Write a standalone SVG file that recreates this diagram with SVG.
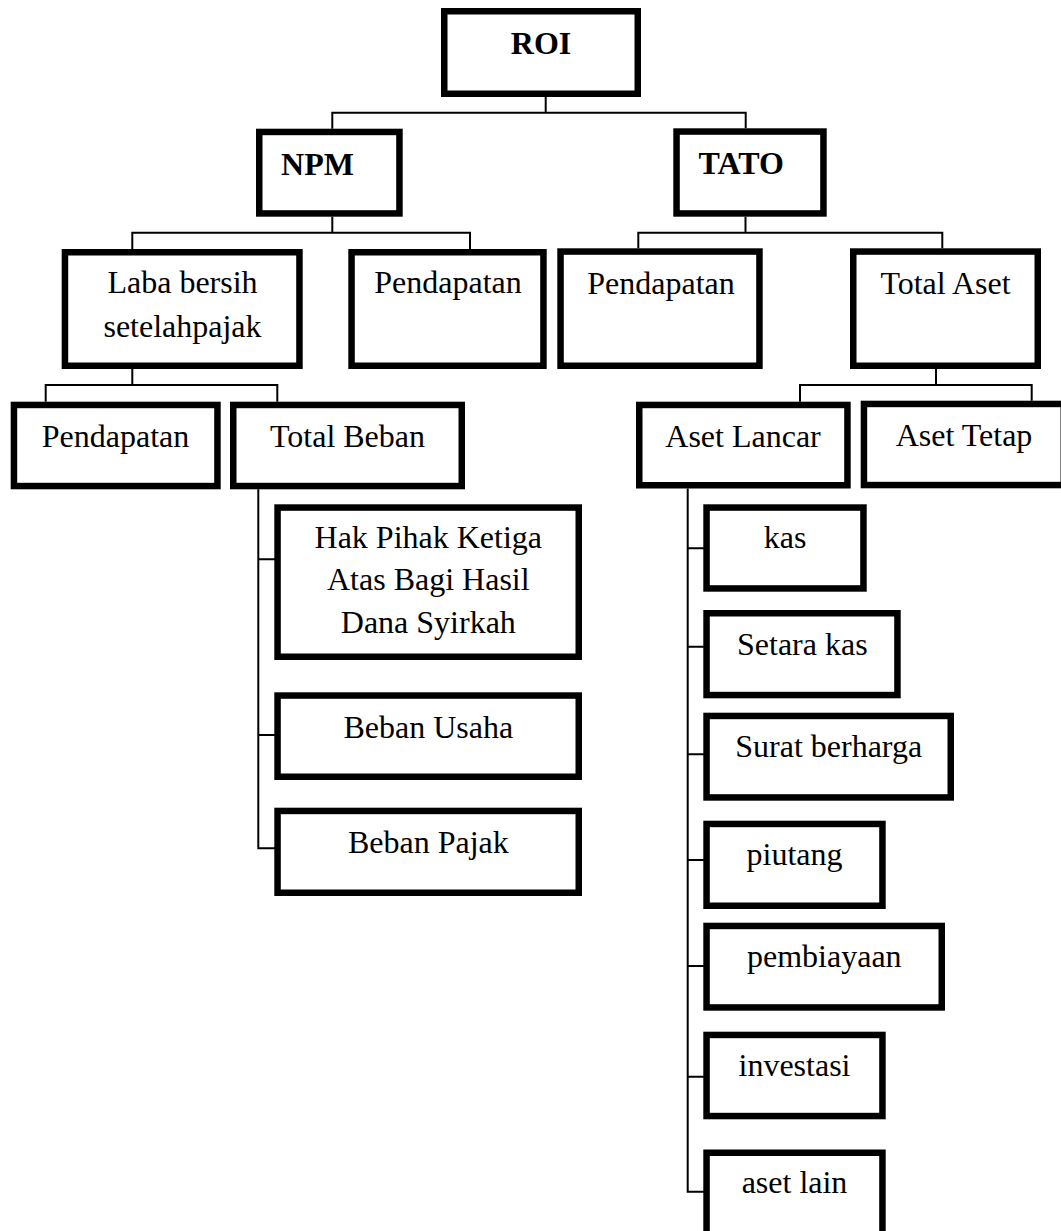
<svg xmlns="http://www.w3.org/2000/svg" width="1061" height="1231" viewBox="0 0 1061 1231">
  <style>
    .box { fill: #ffffff; stroke: #000000; stroke-width: 6.5; }
    .link { fill: none; stroke: #000000; stroke-width: 2; }
    .lbl { font-family: "Liberation Serif", "Times New Roman", serif; font-size: 32px; fill: #000000; text-anchor: middle; }
    .head { font-weight: bold; }
  </style>
  <rect x="0" y="0" width="1061" height="1231" fill="#ffffff"/>

  <!-- tree connectors -->
  <g id="connectors">
    <path class="link" d="M545.7 97V112.7 M332.3 128.7V112.7H745.7V128.3"/>
    <path class="link" d="M332.3 216.7V232.7 M132.3 249V232.7H470V249"/>
    <path class="link" d="M745.5 216.7V232.7 M638.3 248.3V232.7H942.3V248.3"/>
    <path class="link" d="M132.3 369V385 M45.7 401.7V385H277.3V401.7"/>
    <path class="link" d="M936 369V385 M800 401.7V385H1031.7V400.7"/>
    <path class="link" d="M258.3 489.3V848.3H275 M258.3 559.3H275 M258.3 735H275"/>
    <path class="link" d="M687.7 488.5V1191.7H704 M687.7 548.3H704 M687.7 646.7H704 M687.7 754.3H704 M687.7 860H704 M687.7 966H704 M687.7 1076.7H704"/>
  </g>

  <!-- level 0 -->
  <g id="roi">
    <rect class="box" x="444.25" y="11.25" width="193.5" height="82.5"/>
    <text class="lbl head" x="541" y="54">ROI</text>
  </g>

  <!-- level 1 -->
  <g id="npm">
    <rect class="box" x="259.25" y="131.95" width="140.2" height="81.5"/>
    <text class="lbl head" x="317.5" y="175">NPM</text>
  </g>
  <g id="tato">
    <rect class="box" x="676.55" y="131.55" width="146.9" height="81.9"/>
    <text class="lbl head" x="741.2" y="174">TATO</text>
  </g>

  <!-- level 2 -->
  <g id="laba-bersih">
    <rect class="box" x="64.95" y="252.25" width="234.5" height="113.5"/>
    <text class="lbl" x="182.5" y="293.3">Laba bersih</text>
    <text class="lbl" x="182.5" y="336.7">setelahpajak</text>
  </g>
  <g id="pendapatan-npm">
    <rect class="box" x="351.55" y="252.25" width="191.9" height="113.5"/>
    <text class="lbl" x="448" y="293.3">Pendapatan</text>
  </g>
  <g id="pendapatan-tato">
    <rect class="box" x="560.55" y="251.55" width="198.9" height="114.2"/>
    <text class="lbl" x="661" y="294">Pendapatan</text>
  </g>
  <g id="total-aset">
    <rect class="box" x="853.25" y="251.55" width="184.5" height="114.2"/>
    <text class="lbl" x="945.5" y="294">Total Aset</text>
  </g>

  <!-- level 3 -->
  <g id="pendapatan-laba">
    <rect class="box" x="13.95" y="404.95" width="203.5" height="81.1"/>
    <text class="lbl" x="115.5" y="446.7">Pendapatan</text>
  </g>
  <g id="total-beban">
    <rect class="box" x="233.25" y="404.95" width="228.5" height="81.1"/>
    <text class="lbl" x="347.5" y="446.7">Total Beban</text>
  </g>
  <g id="aset-lancar">
    <rect class="box" x="639.25" y="404.95" width="208.2" height="80.3"/>
    <text class="lbl" x="743" y="446.7">Aset Lancar</text>
  </g>
  <g id="aset-tetap">
    <rect class="box" x="863.95" y="403.95" width="199.8" height="81.1"/>
    <text class="lbl" x="964" y="446.3">Aset Tetap</text>
  </g>

  <!-- components of total beban -->
  <g id="hak-pihak-ketiga">
    <rect class="box" x="277.55" y="507.55" width="301.2" height="149.2"/>
    <text class="lbl" x="428.3" y="548.3">Hak Pihak Ketiga</text>
    <text class="lbl" x="428.3" y="590">Atas Bagi Hasil</text>
    <text class="lbl" x="428.3" y="633.3">Dana Syirkah</text>
  </g>
  <g id="beban-usaha">
    <rect class="box" x="277.55" y="695.55" width="301.2" height="81.2"/>
    <text class="lbl" x="428.3" y="737.7">Beban Usaha</text>
  </g>
  <g id="beban-pajak">
    <rect class="box" x="277.55" y="810.95" width="301.2" height="81.8"/>
    <text class="lbl" x="428.3" y="852.7">Beban Pajak</text>
  </g>

  <!-- components of aset lancar -->
  <g id="kas">
    <rect class="box" x="706.55" y="507.55" width="156.9" height="80.9"/>
    <text class="lbl" x="785" y="548.3">kas</text>
  </g>
  <g id="setara-kas">
    <rect class="box" x="706.55" y="613.25" width="190.9" height="81.8"/>
    <text class="lbl" x="802.3" y="654.5">Setara kas</text>
  </g>
  <g id="surat-berharga">
    <rect class="box" x="706.55" y="715.95" width="244.2" height="81.5"/>
    <text class="lbl" x="828.7" y="756.7">Surat berharga</text>
  </g>
  <g id="piutang">
    <rect class="box" x="706.55" y="823.95" width="175.9" height="81.8"/>
    <text class="lbl" x="794.5" y="864.8">piutang</text>
  </g>
  <g id="pembiayaan">
    <rect class="box" x="706.55" y="925.95" width="235.2" height="81.5"/>
    <text class="lbl" x="824.3" y="967.2">pembiayaan</text>
  </g>
  <g id="investasi">
    <rect class="box" x="706.55" y="1034.95" width="175.9" height="81.1"/>
    <text class="lbl" x="794.5" y="1076.2">investasi</text>
  </g>
  <g id="aset-lain">
    <rect class="box" x="706.55" y="1152.75" width="175.9" height="82"/>
    <text class="lbl" x="794.5" y="1193.4">aset lain</text>
  </g>
</svg>
